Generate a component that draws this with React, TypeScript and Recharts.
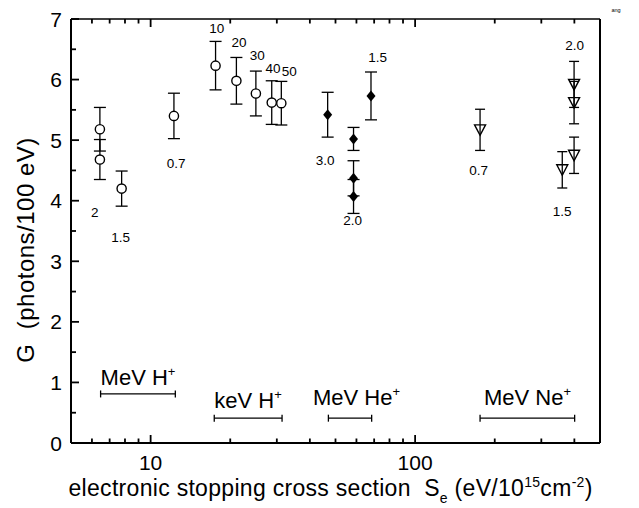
import React from 'react';
import { ScatterChart, Scatter, XAxis, YAxis, ErrorBar } from 'recharts';

// ---- data (x = S_e in eV/10^15cm^-2, y = G photons/100 eV, err = ± error) ----
const mevHX = [6.43, 6.43, 7.77, 12.25];
const mevHG = [5.18, 4.68, 4.2, 5.4];
const mevHErr = [0.36, 0.33, 0.29, 0.375];

const kevHX = [17.6, 21.1, 25.0, 28.7, 31.2];
const kevHG = [6.23, 5.98, 5.77, 5.62, 5.61];
const kevHErr = [0.4, 0.385, 0.37, 0.36, 0.36];

const mevHeX = [46.7, 58.5, 58.5, 58.5, 68.1];
const mevHeG = [5.42, 5.02, 4.37, 4.07, 5.73];
const mevHeErr = [0.37, 0.19, 0.29, 0.28, 0.395];

const mevNeX = [176, 360, 399, 399, 399];
const mevNeG = [5.17, 4.51, 4.75, 5.62, 5.92];
const mevNeErr = [0.34, 0.3, 0.3, 0.35, 0.38];

// energy labels next to the points (MeV / keV)
const energyText = ['10', '20', '30', '40', '50', '2', '1.5', '0.7', '3.0', '2.0', '1.5', '0.7', '1.5', '2.0'];
const energyX = [17.8, 21.6, 25.3, 29.0, 33.4, 6.15, 7.7, 12.5, 45.7, 58.1, 72.1, 174, 360, 401];
const energyG = [6.84, 6.61, 6.39, 6.18, 6.14, 3.81, 3.4, 4.62, 4.67, 3.67, 6.37, 4.5, 3.83, 6.56];

// ion ranges drawn near the bottom
const rangeIon = ['MeV H', 'keV H', 'MeV He', 'MeV Ne'];
const rangeLo = [6.47, 17.4, 47.0, 176];
const rangeHi = [12.4, 31.4, 68.5, 401];
const rangeG = [0.81, 0.41, 0.41, 0.41];
const rangeLabelX = [6.47, 17.4, 41.1, 182];
const rangeLabelG = [0.95, 0.57, 0.62, 0.62];

const xTicks = [5, 6, 7, 8, 9, 10, 20, 30, 40, 50, 60, 70, 80, 90, 100, 200, 300, 400, 500];
const xMajor = [10, 100];
const yTicks = [0, 0.5, 1, 1.5, 2, 2.5, 3, 3.5, 4, 4.5, 5, 5.5, 6, 6.5, 7];

const FONT = '"Liberation Sans", Arial, Helvetica, sans-serif';
const TICK_COLOR = '#000';

const build = (xs: number[], gs: number[], es: number[]) => xs.map((x, i) => ({ x, y: gs[i], err: es[i] }));
const mevH = build(mevHX, mevHG, mevHErr);
const kevH = build(kevHX, kevHG, kevHErr);
const mevHe = build(mevHeX, mevHeG, mevHeErr);
const mevNe = build(mevNeX, mevNeG, mevNeErr);
const energyLabels = energyText.map((text, i) => ({ x: energyX[i], y: energyG[i], text }));
const ranges = rangeIon.map((ion, i) => {
  const c = Math.sqrt(rangeLo[i] * rangeHi[i]);
  return { x: c, y: rangeG[i], err: [c - rangeLo[i], rangeHi[i] - c] };
});
const rangeLabels = rangeIon.map((ion, i) => ({ x: rangeLabelX[i], y: rangeLabelG[i], ion }));

function BottomTick(p: any) {
  const major = xMajor.includes(p.payload.value);
  return (
    <g>
      <path d={`M${p.x},${p.y}V${p.y - (major ? 8 : 4.5)}`} stroke={TICK_COLOR} strokeWidth={1.8} fill="none" />
      {major && (
        <text x={p.x} y={p.y + 27} textAnchor="middle" fontSize={21} fontFamily={FONT} fill="#000">
          {p.payload.value}
        </text>
      )}
    </g>
  );
}
function TopTick(p: any) {
  const major = xMajor.includes(p.payload.value);
  return <path d={`M${p.x},${p.y}V${p.y + (major ? 8 : 4.5)}`} stroke={TICK_COLOR} strokeWidth={1.8} fill="none" />;
}
function LeftTick(p: any) {
  const major = Number.isInteger(p.payload.value);
  return (
    <g>
      <path d={`M${p.x},${p.y}H${p.x + (major ? 8 : 5)}`} stroke={TICK_COLOR} strokeWidth={1.8} fill="none" />
      {major && (
        <text x={p.x - 9} y={p.y + 7.5} textAnchor="end" fontSize={21} fontFamily={FONT} fill="#000">
          {p.payload.value}
        </text>
      )}
    </g>
  );
}
function RightTick(p: any) {
  const major = Number.isInteger(p.payload.value);
  return <path d={`M${p.x},${p.y}H${p.x - (major ? 8 : 6)}`} stroke={TICK_COLOR} strokeWidth={1.8} fill="none" />;
}

const OpenCircle = (p: any) => <circle cx={p.cx} cy={p.cy} r={4.6} fill="#fff" stroke="#000" strokeWidth={1.4} />;
const Diamond = (p: any) => (
  <polygon
    points={`${p.cx},${p.cy - 5.5} ${p.cx + 4.5},${p.cy} ${p.cx},${p.cy + 5.5} ${p.cx - 4.5},${p.cy}`}
    fill="#000"
  />
);
const TriDown = (p: any) => (
  <polygon
    points={`${p.cx - 5.5},${p.cy - 5} ${p.cx + 5.5},${p.cy - 5} ${p.cx},${p.cy + 5.5}`}
    fill="none"
    stroke="#000"
    strokeWidth={1.4}
  />
);
const Nothing = () => <g />;
const EnergyText = (p: any) => (
  <text x={p.cx} y={p.cy} textAnchor="middle" dominantBaseline="central" fontSize={13.5} fontFamily={FONT} fill="#000">
    {p.payload.text}
  </text>
);
const RangeText = (p: any) => (
  <text x={p.cx} y={p.cy} textAnchor="start" fontSize={22} fontFamily={FONT} fill="#000">
    {p.payload.ion}
    <tspan dy={-9} fontSize={13}>+</tspan>
  </text>
);

const ebar = { dataKey: 'err', direction: 'y' as const, width: 6, stroke: '#000', strokeWidth: 1.3 };

export default function App() {
  return (
    <div style={{ position: 'relative', width: 631, height: 500 }}>
      <ScatterChart width={631} height={500} margin={{ top: 10, right: 38, bottom: 64, left: 62 }}>
        <XAxis
          xAxisId="b"
          dataKey="x"
          type="number"
          scale="log"
          domain={[5, 500]}
          allowDataOverflow
          ticks={xTicks}
          interval={0}
          orientation="bottom"
          height={1}
          tickSize={0}
          tickMargin={0}
          tickLine={false}
          tick={BottomTick}
          axisLine={{ stroke: '#000', strokeWidth: 2 }}
        />
        <XAxis
          xAxisId="t"
          dataKey="x"
          type="number"
          scale="log"
          domain={[5, 500]}
          allowDataOverflow
          ticks={xTicks}
          interval={0}
          orientation="top"
          height={1}
          tickSize={0}
          tickMargin={0}
          tickLine={false}
          tick={TopTick}
          axisLine={{ stroke: '#000', strokeWidth: 1.5 }}
        />
        <YAxis
          yAxisId="l"
          dataKey="y"
          type="number"
          domain={[0, 7]}
          ticks={yTicks}
          interval={0}
          orientation="left"
          width={1}
          tickSize={0}
          tickMargin={0}
          tickLine={false}
          tick={LeftTick}
          axisLine={{ stroke: '#000', strokeWidth: 2 }}
        />
        <YAxis
          yAxisId="r"
          dataKey="y"
          type="number"
          domain={[0, 7]}
          ticks={yTicks}
          interval={0}
          orientation="right"
          width={1}
          tickSize={0}
          tickMargin={0}
          tickLine={false}
          tick={RightTick}
          axisLine={{ stroke: '#000', strokeWidth: 2 }}
        />
        <Scatter name="MeV H+" data={mevH} xAxisId="b" yAxisId="l" shape={OpenCircle} isAnimationActive={false}>
          <ErrorBar {...ebar} />
        </Scatter>
        <Scatter name="keV H+" data={kevH} xAxisId="b" yAxisId="l" shape={OpenCircle} isAnimationActive={false}>
          <ErrorBar {...ebar} />
        </Scatter>
        <Scatter name="MeV He+" data={mevHe} xAxisId="b" yAxisId="l" shape={Diamond} isAnimationActive={false}>
          <ErrorBar {...ebar} />
        </Scatter>
        <Scatter name="MeV Ne+" data={mevNe} xAxisId="b" yAxisId="l" shape={TriDown} isAnimationActive={false}>
          <ErrorBar {...ebar} width={5} />
        </Scatter>
        <Scatter name="ranges" data={ranges} xAxisId="b" yAxisId="l" shape={Nothing} isAnimationActive={false}>
          <ErrorBar dataKey="err" direction="x" width={3.5} stroke="#000" strokeWidth={1.3} />
        </Scatter>
        <Scatter name="rangeLabels" data={rangeLabels} xAxisId="b" yAxisId="l" shape={RangeText} isAnimationActive={false} />
        <Scatter name="energies" data={energyLabels} xAxisId="b" yAxisId="l" shape={EnergyText} isAnimationActive={false} />
        <text
          x={25.5}
          y={242}
          transform="rotate(-90, 25.5, 242)"
          textAnchor="middle"
          fontSize={24}
          fontFamily={FONT}
          fill="#000"
          letterSpacing={0.5}
          style={{ whiteSpace: 'pre' }}
        >
          {'G  (photons/100 eV)'}
        </text>
        <text x={60.5} y={488} textAnchor="start" fontSize={23} fontFamily={FONT} fill="#000" letterSpacing={0.3} style={{ whiteSpace: 'pre' }}>
          {'electronic stopping cross section  S'}
          <tspan dy={7} fontSize={14}>e</tspan>
          <tspan dy={-7}>{' (eV/10'}</tspan>
          <tspan dy={-9} fontSize={14}>15</tspan>
          <tspan dy={9}>cm</tspan>
          <tspan dy={-9} fontSize={14}>-2</tspan>
          <tspan dy={9}>)</tspan>
        </text>
        <text x={603.5} y={3.8} fontSize={5.5} fontFamily={FONT} fill="#000">ang</text>
      </ScatterChart>
    </div>
  );
}
